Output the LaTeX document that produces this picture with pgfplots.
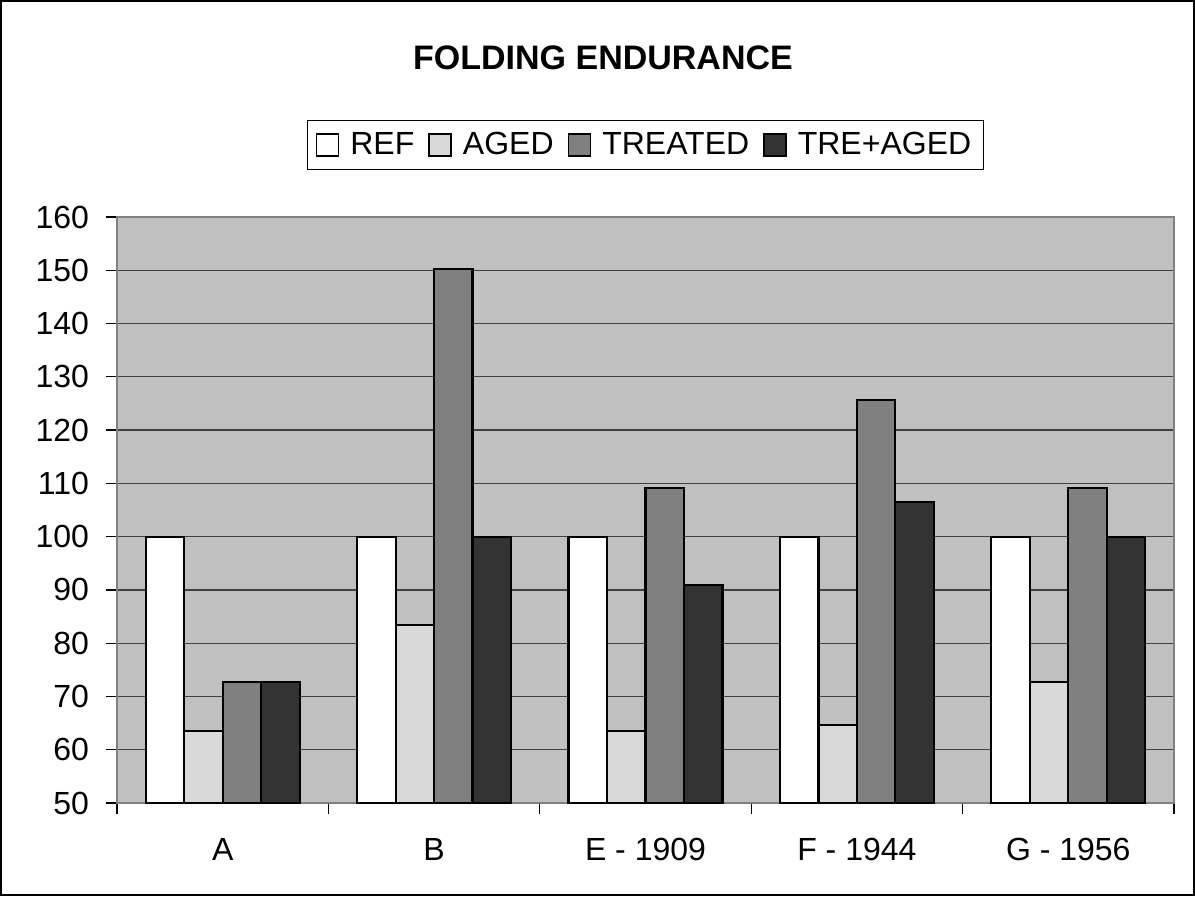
\documentclass[border=0pt]{standalone}
\usepackage{pgfplots}
\pgfplotsset{compat=1.18}
\usepackage{fontspec}
\setmainfont{Liberation Sans}
\definecolor{bggray}{HTML}{C0C0C0}
\definecolor{agedc}{HTML}{D9D9D9}
\definecolor{treatc}{HTML}{808080}
\definecolor{treagc}{HTML}{333333}
\definecolor{gridc}{HTML}{404040}
\begin{document}
\begin{tikzpicture}
\draw[black, line width=0.8pt] (0.4pt,0.4pt) rectangle (597.1pt,447.6pt);
\node[font=\fontsize{17}{20}\selectfont\bfseries] at (301.5pt,419pt) {FOLDING ENDURANCE};
\begin{axis}[
  at={(58.5pt,46.5pt)}, anchor=south west,
  scale only axis, width=528.5pt, height=293pt,
  ymin=50, ymax=160, ytick distance=10,
  xmin=-0.5, xmax=4.5,
  xtick={-0.5,0.5,1.5,2.5,3.5,4.5},
  x tick label as interval,
  xticklabels={A,B,E - 1909,F - 1944,G - 1956},
  tick align=outside, major tick length=5.5pt,
  tick style={black, line width=0.6pt},
  xtick pos=bottom, ytick pos=left,
  ymajorgrids, grid style={gridc, line width=0.6pt},
  axis line style={treatc, line width=0.8pt},
  axis background/.style={fill=bggray},
  /pgf/number format/assume math mode=true,
  tick label style={font=\fontsize{16}{19}\selectfont},
  xticklabel style={yshift=-8.5pt},
  yticklabel style={xshift=-5pt},
  ybar, bar width=0.182,
  every axis plot/.append style={draw=black, line width=1.1pt},
  legend columns=4,
  legend style={at={(0.5,1.123)}, anchor=center, draw=black, line width=0.6pt,
    fill=white, font=\fontsize{16}{19}\selectfont, inner sep=4pt,
    /tikz/every even column/.append style={column sep=5pt},
    /tikz/every odd column/.append style={column sep=3.5pt}},
  legend image code/.code={\draw[#1, line width=0.8pt] (0pt,-5.5pt) rectangle (11pt,5.5pt);},
]
\addplot[fill=white, bar shift=-0.273] coordinates {(0,100) (1,100) (2,100) (3,100) (4,100)};
\addplot[fill=agedc, bar shift=-0.091] coordinates {(0,63.5) (1,83.4) (2,63.5) (3,64.6) (4,72.7)};
\addplot[fill=treatc, bar shift=0.091] coordinates {(0,72.7) (1,150.2) (2,109.1) (3,125.6) (4,109.1)};
\addplot[fill=treagc, bar shift=0.273] coordinates {(0,72.7) (1,100) (2,90.9) (3,106.5) (4,100)};
\legend{REF,AGED,TREATED,TRE+AGED}
\end{axis}
\end{tikzpicture}
\end{document}
